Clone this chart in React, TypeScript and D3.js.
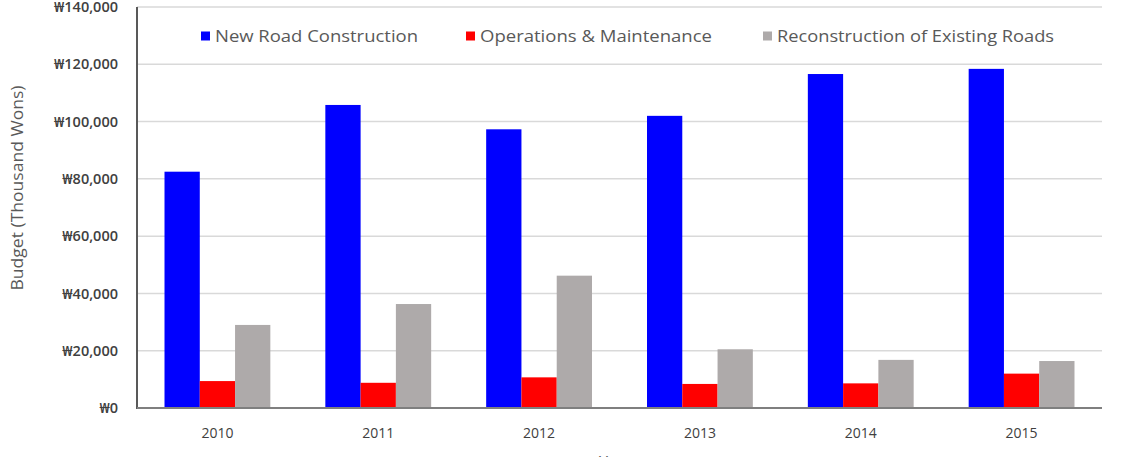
import * as d3 from "d3";
import { useEffect, useRef } from "react";

const years = ["2010", "2011", "2012", "2013", "2014", "2015"];
const seriesNames = ["New Road Construction", "Operations & Maintenance", "Reconstruction of Existing Roads"];
const newRoad = [82500, 105800, 97300, 102000, 116600, 118400];
const maintenance = [9400, 8800, 10700, 8400, 8600, 12000];
const reconstruction = [29000, 36300, 46200, 20500, 16800, 16400];
const yTicks = [0, 20000, 40000, 60000, 80000, 100000, 120000, 140000];
const colors = ["#0000ff", "#ff0000", "#aeaaaa"];

export default function App() {
    const svgRef = useRef<SVGSVGElement>(null);

    useEffect(() => {
        const width = 1131;
        const height = 457;
        const svg = d3.select(svgRef.current);
        svg.selectAll("*").remove();
        svg.attr("width", width).attr("height", height);
        svg.style("background", "#fff");

        const left = 137;
        const right = 1102;
        const top = 7;
        const bottom = 408;

        const values = [newRoad, maintenance, reconstruction];

        const x = d3.scaleBand().domain(years).range([left, right]).paddingInner(0.342).paddingOuter(0.171);
        const xSub = d3.scaleBand().domain(seriesNames).range([0, x.bandwidth()]);
        const y = d3.scaleLinear().domain([0, 140000]).range([bottom, top]);

        // gridlines
        svg.append("g")
            .selectAll("line")
            .data(yTicks.slice(1))
            .join("line")
            .attr("x1", left)
            .attr("x2", right)
            .attr("y1", (d) => y(d))
            .attr("y2", (d) => y(d))
            .attr("stroke", "#d9d9d9")
            .attr("stroke-width", 1.5);

        // bars
        years.forEach((yr, i) => {
            svg.append("g")
                .selectAll("rect")
                .data(seriesNames)
                .join("rect")
                .attr("x", (s) => (x(yr) as number) + (xSub(s) as number))
                .attr("width", xSub.bandwidth())
                .attr("y", (s, j) => y(values[j][i]))
                .attr("height", (s, j) => bottom - y(values[j][i]))
                .attr("fill", (s, j) => colors[j]);
        });

        // axes
        svg.append("line")
            .attr("x1", left).attr("x2", left)
            .attr("y1", top).attr("y2", bottom + 1)
            .attr("stroke", "#595959").attr("stroke-width", 2);
        svg.append("line")
            .attr("x1", left).attr("x2", right)
            .attr("y1", bottom).attr("y2", bottom)
            .attr("stroke", "#7f7f7f").attr("stroke-width", 2);

        const font = "Open Sans, Noto Sans, sans-serif";

        svg.append("g")
            .selectAll("text")
            .data(yTicks)
            .join("text")
            .attr("x", 118)
            .attr("y", (d) => y(d))
            .attr("dy", "0.35em")
            .attr("text-anchor", "end")
            .style("font-family", font)
            .style("font-size", "14.5px")
            .style("font-weight", "600")
            .attr("fill", "#404040")
            .text((d) => "₩" + d3.format(",")(d));

        svg.append("g")
            .selectAll("text")
            .data(years)
            .join("text")
            .attr("x", (d) => (x(d) as number) + x.bandwidth() / 2)
            .attr("y", 438)
            .attr("text-anchor", "middle")
            .style("font-family", font)
            .style("font-size", "14px")
            .attr("fill", "#404040")
            .text((d) => d);

        svg.append("text")
            .attr("transform", `translate(23, 188) rotate(-90)`)
            .attr("text-anchor", "middle")
            .attr("textLength", 205)
            .attr("lengthAdjust", "spacingAndGlyphs")
            .style("font-family", font)
            .style("font-size", "16.5px")
            .attr("fill", "#595959")
            .text("Budget (Thousand Wons)");

        svg.append("text")
            .attr("x", (left + right) / 2)
            .attr("y", 468)
            .attr("text-anchor", "middle")
            .style("font-family", font)
            .style("font-size", "16px")
            .attr("fill", "#595959")
            .text("Years");

        // legend
        const legendX = [201, 466, 763];
        const legendW = [203, 232, 277];
        const legend = svg.append("g")
            .selectAll("g")
            .data(seriesNames)
            .join("g")
            .attr("transform", (d, i) => `translate(${legendX[i]}, 36)`);
        legend.append("rect")
            .attr("x", 0).attr("y", -4.5)
            .attr("width", 9).attr("height", 9)
            .attr("fill", (d, i) => colors[i]);
        legend.append("text")
            .attr("x", 14)
            .attr("dy", "0.35em")
            .attr("textLength", (d, i) => legendW[i])
            .attr("lengthAdjust", "spacingAndGlyphs")
            .style("font-family", font)
            .style("font-size", "16px")
            .attr("fill", "#595959")
            .text((d) => d);
    }, []);

    return (
        <div style={{ position: "absolute", left: 0, top: 0 }}>
            <svg ref={svgRef} />
        </div>
    );
}
